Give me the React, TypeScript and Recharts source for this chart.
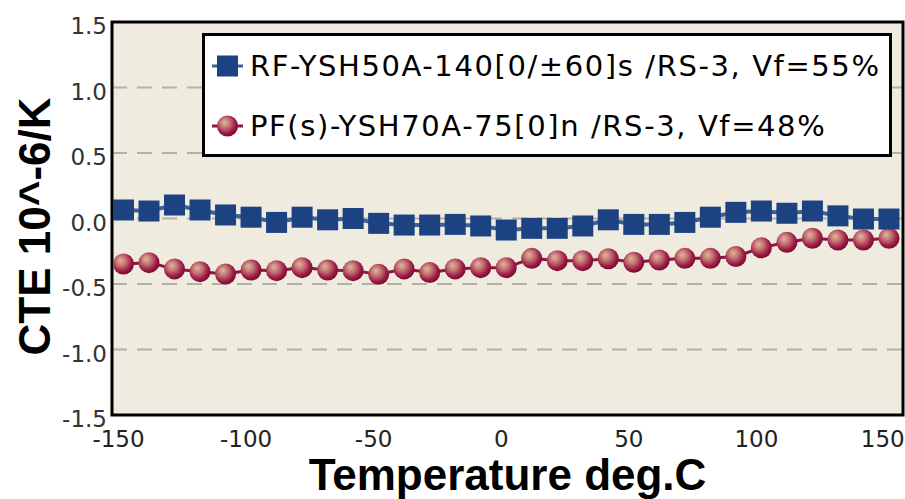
import React from 'react';
import {
  LineChart,
  Line,
  XAxis,
  YAxis,
  CartesianGrid,
  ReferenceArea,
  Legend,
  Label,
} from 'recharts';

const temps = [
  -150, -140, -130, -120, -110, -100, -90, -80, -70, -60, -50, -40, -30, -20, -10,
  0, 10, 20, 30, 40, 50, 60, 70, 80, 90, 100, 110, 120, 130, 140, 150,
];

const rfValues = [
  0.065, 0.057, 0.103, 0.065, 0.027, 0.01, -0.03, 0.01, -0.01, 0.0, -0.037, -0.05,
  -0.05, -0.045, -0.057, -0.088, -0.075, -0.075, -0.057, -0.01, -0.045, -0.045,
  -0.03, 0.01, 0.047, 0.057, 0.04, 0.057, 0.02, -0.004, -0.004,
];

const pfValues = [
  -0.347, -0.337, -0.385, -0.406, -0.424, -0.393, -0.398, -0.375, -0.393, -0.398,
  -0.426, -0.385, -0.413, -0.385, -0.375, -0.375, -0.304, -0.322, -0.322, -0.307,
  -0.334, -0.317, -0.304, -0.304, -0.29, -0.223, -0.182, -0.151, -0.164, -0.164,
  -0.151,
];

const xTicks = [-150, -100, -50, 0, 50, 100, 150];
const yTicks = [-1.5, -1.0, -0.5, 0.0, 0.5, 1.0, 1.5];

const seriesNames = {
  rf: 'RF-YSH50A-140[0/±60]s /RS-3, Vf=55%',
  pf: 'PF(s)-YSH70A-75[0]n /RS-3, Vf=48%',
};

const data = temps.map((t, i) => ({ t, rf: rfValues[i], pf: pfValues[i] }));

const BLUE_FILL = '#1c4282';
const BLUE_LINE = '#3d6097';
const RED_LINE = '#8a1840';

const GradientStops = () => (
  <>
    <stop offset="0%" stopColor="#dfb69c" />
    <stop offset="40%" stopColor="#c47272" />
    <stop offset="78%" stopColor="#9c1c46" />
    <stop offset="100%" stopColor="#7a0a32" />
  </>
);

const renderSquare = (props: any) => {
  const { cx, cy, index } = props;
  if (cx == null || cy == null) return <g key={`sq-${index}`} />;
  return (
    <rect
      key={`sq-${index}`}
      x={cx - 10.5}
      y={cy - 10.5}
      width={21}
      height={21}
      fill={BLUE_FILL}
    />
  );
};

const renderBall = (props: any) => {
  const { cx, cy, index } = props;
  if (cx == null || cy == null) return <g key={`ball-${index}`} />;
  return <circle key={`ball-${index}`} cx={cx} cy={cy} r={10.5} fill="url(#ballGrad)" />;
};

const legendText: React.CSSProperties = {
  fontFamily: 'DejaVu Sans',
  fontSize: 29,
  letterSpacing: 1.6,
  color: '#000',
  whiteSpace: 'nowrap',
  marginLeft: 7,
};

const renderLegend = () => (
  <div
    style={{
      boxSizing: 'border-box',
      width: 690,
      height: 124,
      border: '3px solid #000',
      background: '#fff',
    }}
  >
    <div style={{ height: 60, display: 'flex', alignItems: 'center' }}>
      <svg width={31} height={24} style={{ marginLeft: 7, display: 'block' }}>
        <line x1={0} y1={12} x2={31} y2={12} stroke={BLUE_LINE} strokeWidth={3} />
        <rect x={5} y={1.5} width={21} height={21} fill={BLUE_FILL} />
      </svg>
      <span style={legendText}>{seriesNames.rf}</span>
    </div>
    <div style={{ height: 60, display: 'flex', alignItems: 'center' }}>
      <svg width={31} height={24} style={{ marginLeft: 7, display: 'block' }}>
        <defs>
          <radialGradient id="ballGradLegend" cx="42%" cy="40%" r="60%" fx="36%" fy="32%">
            <GradientStops />
          </radialGradient>
        </defs>
        <line x1={0} y1={12} x2={31} y2={12} stroke={RED_LINE} strokeWidth={3} />
        <circle cx={15.5} cy={12} r={10.5} fill="url(#ballGradLegend)" />
      </svg>
      <span style={legendText}>{seriesNames.pf}</span>
    </div>
  </div>
);

const renderYLabel = (props: any) => {
  const vb = props.viewBox || {};
  const x = 34;
  const y = (vb.y ?? 22) + (vb.height ?? 393) / 2 + 8;
  return (
    <text
      x={x}
      y={y}
      transform={`rotate(-90, ${x}, ${y})`}
      textAnchor="middle"
      dominantBaseline="central"
      fontFamily="Liberation Sans"
      fontWeight="bold"
      fontSize={44}
      fill="#000"
    >
      CTE 10^-6/K
    </text>
  );
};

export default function App() {
  return (
    <div style={{ position: 'absolute', left: 0, top: 0, width: 905, height: 499, background: '#fff' }}>
      <LineChart
        width={905}
        height={499}
        data={data}
        margin={{ top: 22, right: 2, bottom: 0, left: 0 }}
      >
        <defs>
          <radialGradient id="ballGrad" cx="42%" cy="40%" r="60%" fx="36%" fy="32%">
            <GradientStops />
          </radialGradient>
        </defs>
        <CartesianGrid
          vertical={false}
          stroke="#b3b0a6"
          strokeWidth={2}
          strokeDasharray="15 10"
          fill="#efecdf"
          fillOpacity={1}
        />
        <XAxis
          type="number"
          dataKey="t"
          domain={[-154.5, 155.5]}
          ticks={xTicks}
          allowDataOverflow
          height={84}
          axisLine={false}
          tickLine={false}
          tickSize={6}
          tickMargin={10}
          tick={{ fontSize: 23, fill: '#222', fontFamily: 'DejaVu Sans', dx: -5 }}
        >
          <Label
            value="Temperature deg.C"
            position="insideBottom"
            offset={9}
            style={{ fontFamily: 'Liberation Sans', fontWeight: 'bold', fontSize: 44, fill: '#000' }}
          />
        </XAxis>
        <YAxis
          type="number"
          domain={[-1.5, 1.5]}
          ticks={yTicks}
          width={112}
          axisLine={false}
          tickLine={false}
          tickSize={3}
          tickMargin={2}
          tickFormatter={(v: number) => v.toFixed(1)}
          tick={{ fontSize: 23, fill: '#333', fontFamily: 'DejaVu Sans', dy: 4 }}
        >
          <Label content={renderYLabel} position="insideLeft" />
        </YAxis>
        <ReferenceArea
          x1={-154.5}
          x2={155.5}
          y1={-1.5}
          y2={1.5}
          fill="none"
          stroke="#000"
          strokeWidth={3}
          ifOverflow="visible"
        />
        <Line
          type="linear"
          dataKey="pf"
          name={seriesNames.pf}
          stroke={RED_LINE}
          strokeWidth={3}
          dot={renderBall}
          activeDot={false}
          isAnimationActive={false}
        />
        <Line
          type="linear"
          dataKey="rf"
          name={seriesNames.rf}
          stroke={BLUE_LINE}
          strokeWidth={4}
          dot={renderSquare}
          activeDot={false}
          isAnimationActive={false}
        />
        <Legend
          layout="vertical"
          align="center"
          verticalAlign="middle"
          content={renderLegend}
          wrapperStyle={{ left: 202, top: 33, width: 690, height: 124 }}
        />
      </LineChart>
    </div>
  );
}
